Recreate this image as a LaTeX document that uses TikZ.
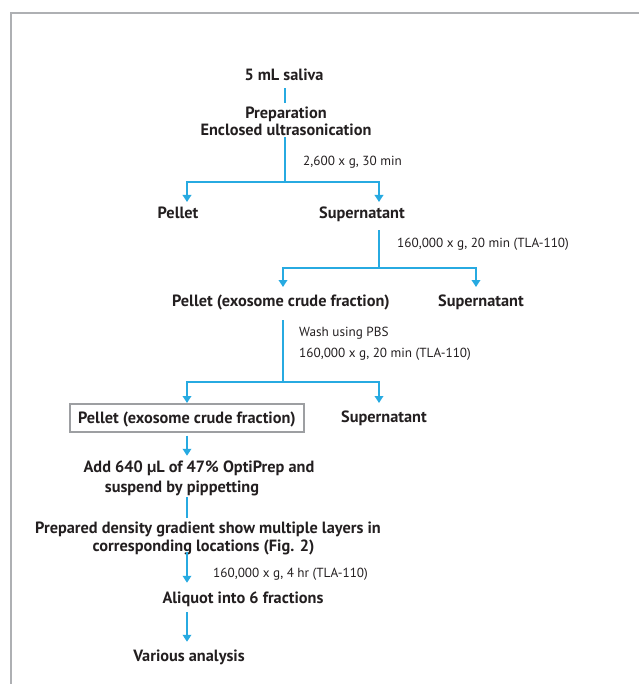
\documentclass[tikz,border=0pt]{standalone}
\usepackage{fontspec}
\setmainfont{PT Sans}
\usetikzlibrary{arrows.meta,calc}
\definecolor{flowblue}{HTML}{27AAE1}
\definecolor{txt}{HTML}{231F20}
\definecolor{framegray}{HTML}{AEB0B3}
\definecolor{boxgray}{HTML}{9D9FA2}
\tikzset{
  lbl/.style={font=\bfseries\fontsize{16.3}{18}\selectfont, text=txt, inner sep=0pt, text height=11pt, text depth=0pt},
  note/.style={font=\fontsize{13.2}{16}\selectfont, text=txt, inner sep=0pt, anchor=west, text height=9.5pt, text depth=0pt},
  flow/.style={draw=flowblue, line width=2.6pt},
  flowarr/.style={flow, -{Triangle[width=8.5pt,length=7pt]}},
}
\begin{document}
\begin{tikzpicture}[x=1pt,y=-1pt]
\useasboundingbox (0,0) rectangle (639,684);
\draw[framegray, line width=1.5pt] (11,684) -- (11,13) -- (639,13);

\node[lbl] (saliva) at (284,75) {5 mL saliva};
\node[lbl] (prep1) at (286,113) {Preparation};
\node[lbl] (prep2) at (286,130) {Enclosed ultrasonication};
\node[note] (c1) at (303,161) {2,600 x g, 30 min};
\node[lbl] (pel1) at (178,213) {Pellet};
\node[lbl] (sup1) at (362,213) {Supernatant};
\node[note] (c2) at (397,243) {160,000 x g, 20 min (TLA-110)};
\node[lbl] (pel2) at (281,301) {Pellet (exosome crude fraction)};
\node[lbl] (sup2) at (481,301) {Supernatant};
\node[note] (c3a) at (299,332) {Wash using PBS};
\node[note] (c3b) at (299,353) {160,000 x g, 20 min (TLA-110)};
\node[lbl, draw=boxgray, line width=1.2pt, minimum width=234pt, minimum height=28pt] (pel3) at (187,418) {Pellet (exosome crude fraction)};
\node[lbl] (sup3) at (384,417) {Supernatant};
\node[lbl] (add1) at (199,467) {Add 640 µL of 47\% OptiPrep and};
\node[lbl] (add2) at (182,487) {suspend by pippetting};
\node[lbl] (grad1) at (208,528) {Prepared density gradient show multiple layers in};
\node[lbl] (grad2) at (203.5,546) {corresponding locations (Fig. 2)};
\node[note] (c4) at (213,573) {160,000 x g, 4 hr (TLA-110)};
\node[lbl] (aliq) at (243,598) {Aliquot into 6 fractions};
\node[lbl] (var) at (189,656) {Various analysis};

\coordinate (j1) at (285,182);
\coordinate (t1a) at (187,202);
\coordinate (t1b) at (379,202);
\coordinate (j2) at (379,268);
\coordinate (t2a) at (283,287);
\coordinate (t2b) at (476,287);
\coordinate (j3) at (283,382);
\coordinate (t3a) at (187,403);
\coordinate (t3b) at (379,403);

\draw[flow, shorten <=7.5pt, shorten >=4.5pt] (saliva.south -| j1) -- (prep1.north -| j1);
\draw[flow, shorten <=1.5pt] (prep2.south -| j1) -- (j1);
\draw[flowarr] (j1) -| (t1a);
\draw[flowarr] (j1) -| (t1b);

\draw[flow, shorten <=11.5pt] (sup1.south -| j2) -- (j2);
\draw[flowarr] (j2) -| (t2a);
\draw[flowarr] (j2) -| (t2b);

\draw[flow, shorten <=13.5pt] (pel2.south -| j3) -- (j3);
\draw[flowarr] (j3) -| (t3a);
\draw[flowarr] (j3) -| (t3b);

\draw[flowarr, shorten <=3pt, shorten >=5.5pt] (pel3.south) -- (add1.north -| pel3.south);
\draw[flow, shorten <=4.5pt, shorten >=4.5pt] (add2.south -| pel3.south) -- (grad1.north -| pel3.south);
\draw[flowarr, shorten >=9.5pt] (grad2.south -| pel3.south) -- (aliq.north -| pel3.south);
\draw[flowarr, shorten <=8.5pt, shorten >=8.5pt] (aliq.south -| pel3.south) -- (var.north -| pel3.south);
\end{tikzpicture}
\end{document}
